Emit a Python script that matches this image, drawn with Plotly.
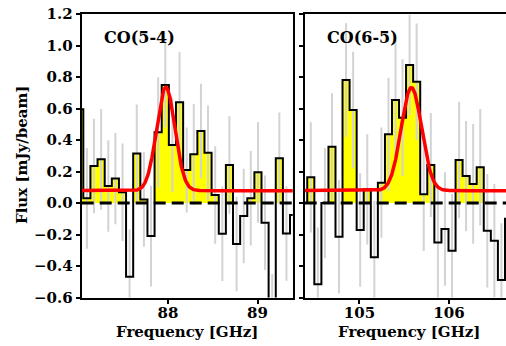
import numpy as np
import plotly.graph_objects as go

# ---------------- data ----------------
freq_54 = [87.014, 87.094, 87.173, 87.253, 87.333, 87.412, 87.492, 87.571, 87.651, 87.731,
           87.810, 87.890, 87.970, 88.049, 88.129, 88.209, 88.288, 88.368, 88.447, 88.527,
           88.607, 88.686, 88.766, 88.846, 88.925, 89.005, 89.084, 89.164, 89.244, 89.323,
           89.403]
flux_54 = [0.595, 0.03, 0.235, 0.277, 0.108, 0.155, 0.068, -0.468, 0.315, 0.023,
           -0.21, 0.449, 0.749, 0.368, 0.639, 0.21, 0.309, 0.457, 0.319, 0.051,
           -0.195, 0.241, -0.26, -0.083, 0.03, 0.195, -0.125, -0.75, 0.284, -0.193,
           -0.076]
err_54 = [0.30, 0.32, 0.30, 0.32, 0.29, 0.29, 0.31, 0.30, 0.31, 0.30,
          0.32, 0.35, 0.27, 0.30, 0.32, 0.27, 0.32, 0.30, 0.30, 0.31,
          0.30, 0.31, 0.30, 0.30, 0.30, 0.32, 0.30, 0.30, 0.29, 0.30,
          0.30]

freq_65 = [104.377, 104.456, 104.535, 104.614, 104.693, 104.771, 104.850, 104.929, 105.008, 105.087,
           105.166, 105.245, 105.324, 105.403, 105.481, 105.560, 105.639, 105.718, 105.797, 105.876,
           105.955, 106.034, 106.113, 106.191, 106.270, 106.349, 106.428, 106.507, 106.586, 106.665]
flux_65 = [0.0, 0.163, -0.516, 0.0, 0.357, -0.214, 0.781, 0.59, -0.171, 0.087,
           -0.345, 0.129, 0.436, 0.654, 0.542, 0.876, 0.77, 0.055, 0.241, -0.25,
           -0.165, -0.303, 0.273, 0.171, 0.121, 0.227, -0.176, -0.239, -0.489, -0.1]
err_65 = [0.35, 0.35, 0.36, 0.35, 0.34, 0.36, 0.36, 0.37, 0.36, 0.35,
          0.36, 0.35, 0.36, 0.38, 0.37, 0.32, 0.37, 0.36, 0.33, 0.36,
          0.36, 0.36, 0.37, 0.35, 0.38, 0.37, 0.36, 0.36, 0.36, 0.36]

# Gaussian + continuum fit parameters: (continuum, amplitude, centre, sigma)
fit_54 = (0.078, 0.657, 87.975, 0.1025)
fit_65 = (0.078, 0.655, 105.58, 0.114)

labels = ["CO(5-4)", "CO(6-5)"]
xticks_54 = [88, 89]
xticks_65 = [105, 106]
yticks = [-0.6, -0.4, -0.2, 0.0, 0.2, 0.4, 0.6, 0.8, 1.0, 1.2]

# ---------------- figure ----------------
W, H = 506, 346
FONT = "DejaVu Serif"
fig = go.Figure()


def add_panel(freq, flux, err, fit, xa, ya):
    freq = np.asarray(freq)
    flux = np.asarray(flux)
    chan = float(np.median(np.diff(freq)))
    fig.add_trace(go.Bar(x=freq, y=np.clip(flux, 0, None), width=chan,
                         marker=dict(color="#ffff00", line=dict(width=0)),
                         xaxis=xa, yaxis=ya, showlegend=False, hoverinfo="skip"))
    fig.add_trace(go.Scatter(x=freq, y=flux, mode="markers",
                             marker=dict(size=1, color="rgba(0,0,0,0)"),
                             error_y=dict(type="data", array=err, width=0,
                                          thickness=2, color="#d3d3d3"),
                             xaxis=xa, yaxis=ya, showlegend=False, hoverinfo="skip"))
    fig.add_trace(go.Scatter(x=freq, y=flux, mode="lines",
                             line=dict(shape="hvh", color="black", width=2),
                             xaxis=xa, yaxis=ya, showlegend=False, hoverinfo="skip"))
    c, a, mu, s = fit
    xx = np.linspace(freq[0] - 0.2, freq[-1] + 0.2, 600)
    yy = c + a * np.exp(-0.5 * ((xx - mu) / s) ** 2)
    fig.add_trace(go.Scatter(x=xx, y=yy, mode="lines",
                             line=dict(color="red", width=3.5),
                             xaxis=xa, yaxis=ya, showlegend=False, hoverinfo="skip"))


add_panel(freq_54, flux_54, err_54, fit_54, "x", "y")
add_panel(freq_65, flux_65, err_65, fit_65, "x2", "y2")

x1d = [81.7 / W, 292.7 / W]
x2d = [304.7 / W, 1.0]
yd = [1 - 297.5 / H, 1 - 14 / H]

tickfont = dict(family=FONT, size=15, color="black", weight="bold")
common_x = dict(showline=True, linecolor="black", linewidth=2, mirror=True,
                ticks="outside", ticklen=4, tickwidth=1.5, tickcolor="black",
                showgrid=False, zeroline=False, tickfont=tickfont, automargin=False,
                ticklabelstandoff=-4)
common_y = dict(showline=True, linecolor="black", linewidth=2,
                ticks="outside", ticklen=4, tickwidth=1.5, tickcolor="black",
                showgrid=False, zeroline=False, tickfont=tickfont, automargin=False,
                range=[-0.6, 1.2], tickvals=yticks, tickformat=".1f")

fig.update_layout(
    width=W, height=H, autosize=False, margin=dict(l=0, r=0, t=0, b=0, pad=0),
    paper_bgcolor="white", plot_bgcolor="white", showlegend=False,
    bargap=0,
    xaxis=dict(domain=x1d, range=[87.036, 89.393], tickvals=xticks_54, anchor="y", **common_x),
    xaxis2=dict(domain=x2d, range=[104.388, 106.637], tickvals=xticks_65, anchor="y2", **common_x),
    yaxis=dict(domain=yd, anchor="x", mirror=True, **common_y),
    yaxis2=dict(domain=yd, anchor="x2", showticklabels=False, **common_y),
)

for xa in ["x", "x2"]:
    fig.add_shape(type="line", xref=f"{xa} domain", yref="y" if xa == "x" else "y2",
                  x0=0, x1=1, y0=0, y1=0,
                  line=dict(color="black", width=3, dash="12px,6px"), layer="above")

lab_font = dict(family=FONT, size=16, color="black", weight="bold")
fig.add_annotation(text=labels[0], xref="paper", yref="paper", x=102 / W, y=1 - 37.5 / H,
                   xanchor="left", yanchor="middle", showarrow=False, font=lab_font)
fig.add_annotation(text=labels[1], xref="paper", yref="paper", x=325 / W, y=1 - 37.5 / H,
                   xanchor="left", yanchor="middle", showarrow=False, font=lab_font)

title_font = dict(family=FONT, size=15, color="black", weight="bold")
fig.add_annotation(text="Frequency [GHz]", xref="paper", yref="paper",
                   x=187 / W, y=1 - 331.5 / H, xanchor="center", yanchor="middle",
                   showarrow=False, font=title_font)
fig.add_annotation(text="Frequency [GHz]", xref="paper", yref="paper",
                   x=408.5 / W, y=1 - 331.5 / H, xanchor="center", yanchor="middle",
                   showarrow=False, font=title_font)
fig.add_annotation(text="Flux [mJy/beam]", xref="paper", yref="paper",
                   x=22 / W, y=1 - 155 / H, xanchor="center", yanchor="middle", textangle=-90,
                   showarrow=False, font=title_font)

fig.write_html("out.html", config={"displayModeBar": False},
               post_script="document.body.style.margin='0';document.body.style.overflow='hidden';")
